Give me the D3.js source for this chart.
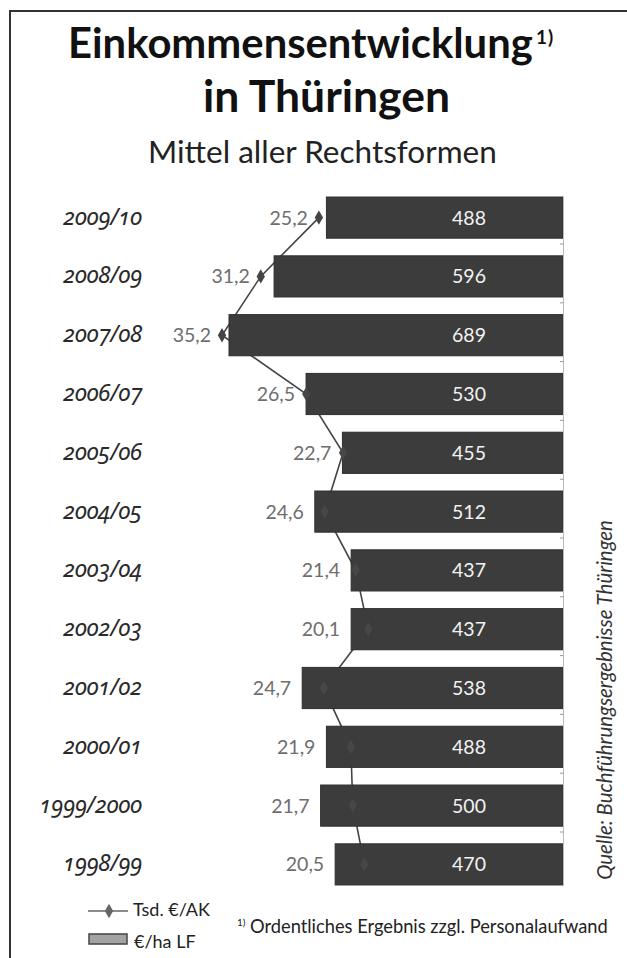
<!DOCTYPE html>
<html>
<head>
<meta charset="utf-8">
<script src="https://cdn.jsdelivr.net/npm/d3@7"></script>
<style>
  html, body { margin: 0; padding: 0; background: #fff; }
  svg text { font-family: Lato, "Open Sans", sans-serif; }
  .year { font-family: "Noto Sans", Lato, sans-serif; font-style: italic;
          font-feature-settings: "onum" 1; font-variant-numeric: oldstyle-nums; }
</style>
</head>
<body>
<svg id="chart" width="627" height="958"></svg>
<script>
// Wirtschaftsjahre, von oben nach unten
const years = ["2009/10", "2008/09", "2007/08", "2006/07", "2005/06", "2004/05",
               "2003/04", "2002/03", "2001/02", "2000/01", "1999/2000", "1998/99"];
// Einkommen je ha LF (€)
const perHectare = [488, 596, 689, 530, 455, 512, 437, 437, 538, 488, 500, 470];
// Einkommen je Arbeitskraft (Tsd. €)
const perWorker = [25.2, 31.2, 35.2, 26.5, 22.7, 24.6, 21.4, 20.1, 24.7, 21.9, 21.7, 20.5];

const fmt = v => String(v).replace(".", ",");

const svg = d3.select("#chart");

// Rahmen
svg.append("path")
  .attr("d", "M10,958 V11 H627")
  .attr("fill", "none")
  .attr("stroke", "#333")
  .attr("stroke-width", 2);

// Text auf eine Breite einpassen
function fitText(sel, width, base) {
  sel.attr("font-size", base);
  const len = sel.node().getComputedTextLength();
  sel.attr("font-size", base * width / len);
  return sel;
}

// Titel
fitText(svg.append("text").attr("x", 68).attr("y", 58)
  .attr("font-weight", 700).attr("fill", "#111")
  .text("Einkommensentwicklung"), 465, 40);
svg.append("text").attr("x", 536).attr("y", 44)
  .attr("font-weight", 700).attr("font-size", 19).attr("letter-spacing", 1).attr("fill", "#111")
  .text("1)");
fitText(svg.append("text").attr("x", 203).attr("y", 112)
  .attr("font-weight", 700).attr("fill", "#111")
  .text("in Thüringen"), 247, 40);
fitText(svg.append("text").attr("x", 148).attr("y", 163)
  .attr("font-weight", 400).attr("fill", "#222")
  .text("Mittel aller Rechtsformen"), 349, 26);

// Skalen: beide Reihen wachsen von der rechten Achse nach links
const xRight = 563;
const xBar = d3.scaleLinear().domain([0, 689]).range([xRight, 229]);
const xLine = d3.scaleLinear().domain([0, 35.2]).range([xRight, 222]);
const y = d3.scaleBand().domain(years)
  .range([188.2, 893.8]).paddingInner(0.3).paddingOuter(0.15);

const rows = years.map((yr, i) => ({ yr, bar: perHectare[i], ak: perWorker[i] }));

// Linie (unter den Balken)
const line = d3.line()
  .x(d => xLine(d.ak))
  .y(d => y(d.yr) + y.bandwidth() / 2);
svg.append("path")
  .datum(rows)
  .attr("d", line)
  .attr("fill", "none")
  .attr("stroke", "#444")
  .attr("stroke-width", 1.6);

// Balken
svg.append("g").selectAll("rect")
  .data(rows)
  .join("rect")
  .attr("x", d => xBar(d.bar))
  .attr("y", d => y(d.yr))
  .attr("width", d => xRight - xBar(d.bar))
  .attr("height", y.bandwidth())
  .attr("fill", "#3c3c3c")
  .attr("stroke", "#2e2e2e")
  .attr("stroke-width", 1);

// rechte Achse mit kleinen Strichen zwischen den Balken
const first = y(years[0]);
const last = y(years[years.length - 1]) + y.bandwidth();
svg.append("line")
  .attr("x1", xRight + 0.5).attr("x2", xRight + 0.5)
  .attr("y1", first).attr("y2", last)
  .attr("stroke", "#bbb").attr("stroke-width", 1);
svg.append("g").selectAll("line")
  .data(years.slice(1))
  .join("line")
  .attr("x1", xRight - 3).attr("x2", xRight + 0.5)
  .attr("y1", d => y(d) - y.step() * y.paddingInner() / 2 - 3)
  .attr("y2", d => y(d) - y.step() * y.paddingInner() / 2 - 3)
  .attr("stroke", "#999").attr("stroke-width", 1);

// Marker: außerhalb der Balken kräftig, innerhalb nur schwach sichtbar
const diamond = d3.symbol().type(d3.symbolDiamond).size(60);
svg.append("g").selectAll("path")
  .data(rows)
  .join("path")
  .attr("d", diamond)
  .attr("transform", d => `translate(${xLine(d.ak)},${y(d.yr) + y.bandwidth() / 2})`)
  .attr("fill", d => xLine(d.ak) < xBar(d.bar) - 2 ? "#444" : "#474747");

// Werte der Linie
svg.append("g").selectAll("text")
  .data(rows)
  .join("text")
  .attr("x", d => Math.min(xLine(d.ak), xBar(d.bar)) - 11)
  .attr("y", d => y(d.yr) + y.bandwidth() / 2)
  .attr("dy", "0.36em")
  .attr("text-anchor", "end")
  .attr("font-size", 19.5)
  .attr("fill", "#6e6e6e")
  .text(d => fmt(d.ak));

// Werte der Balken
svg.append("g").selectAll("text")
  .data(rows)
  .join("text")
  .attr("x", 469)
  .attr("y", d => y(d.yr) + y.bandwidth() / 2)
  .attr("dy", "0.36em")
  .attr("text-anchor", "middle")
  .attr("font-size", 19.5)
  .attr("fill", "#f2f2f2")
  .text(d => d.bar);

// Jahresbeschriftung
svg.append("g").selectAll("text")
  .data(rows)
  .join("text")
  .attr("class", "year")
  .attr("x", 142)
  .attr("y", d => y(d.yr) + y.bandwidth() / 2)
  .attr("dy", "0.3em")
  .attr("text-anchor", "end")
  .attr("font-size", 23)
  .attr("fill", "#2a2a2a")
  .text(d => d.yr);

// Quelle (senkrecht)
const src = svg.append("text")
  .attr("transform", "translate(612,700) rotate(-90)")
  .attr("text-anchor", "middle")
  .attr("font-style", "italic")
  .attr("fill", "#333")
  .text("Quelle: Buchführungsergebnisse Thüringen");
fitText(src, 360, 17);

// Legende
const lg = svg.append("g");
lg.append("line").attr("x1", 88).attr("x2", 128).attr("y1", 911).attr("y2", 911)
  .attr("stroke", "#666").attr("stroke-width", 1.6);
lg.append("path").attr("d", diamond).attr("transform", "translate(109,911)")
  .attr("fill", "#666");
lg.append("text").attr("x", 133).attr("y", 916).attr("font-size", 18).attr("fill", "#222")
  .text("Tsd. €/AK");
lg.append("rect").attr("x", 89).attr("y", 934).attr("width", 38).attr("height", 10)
  .attr("fill", "#a3a3a3").attr("stroke", "#444").attr("stroke-width", 1.5);
lg.append("text").attr("x", 134).attr("y", 948).attr("font-size", 18).attr("fill", "#222")
  .text("€/ha LF");

// Fußnote
svg.append("text").attr("x", 237).attr("y", 926).attr("font-size", 10).attr("fill", "#222")
  .text("1)");
fitText(svg.append("text").attr("x", 250).attr("y", 933).attr("fill", "#222")
  .text("Ordentliches Ergebnis zzgl. Personalaufwand"), 358, 17);
</script>
</body>
</html>
